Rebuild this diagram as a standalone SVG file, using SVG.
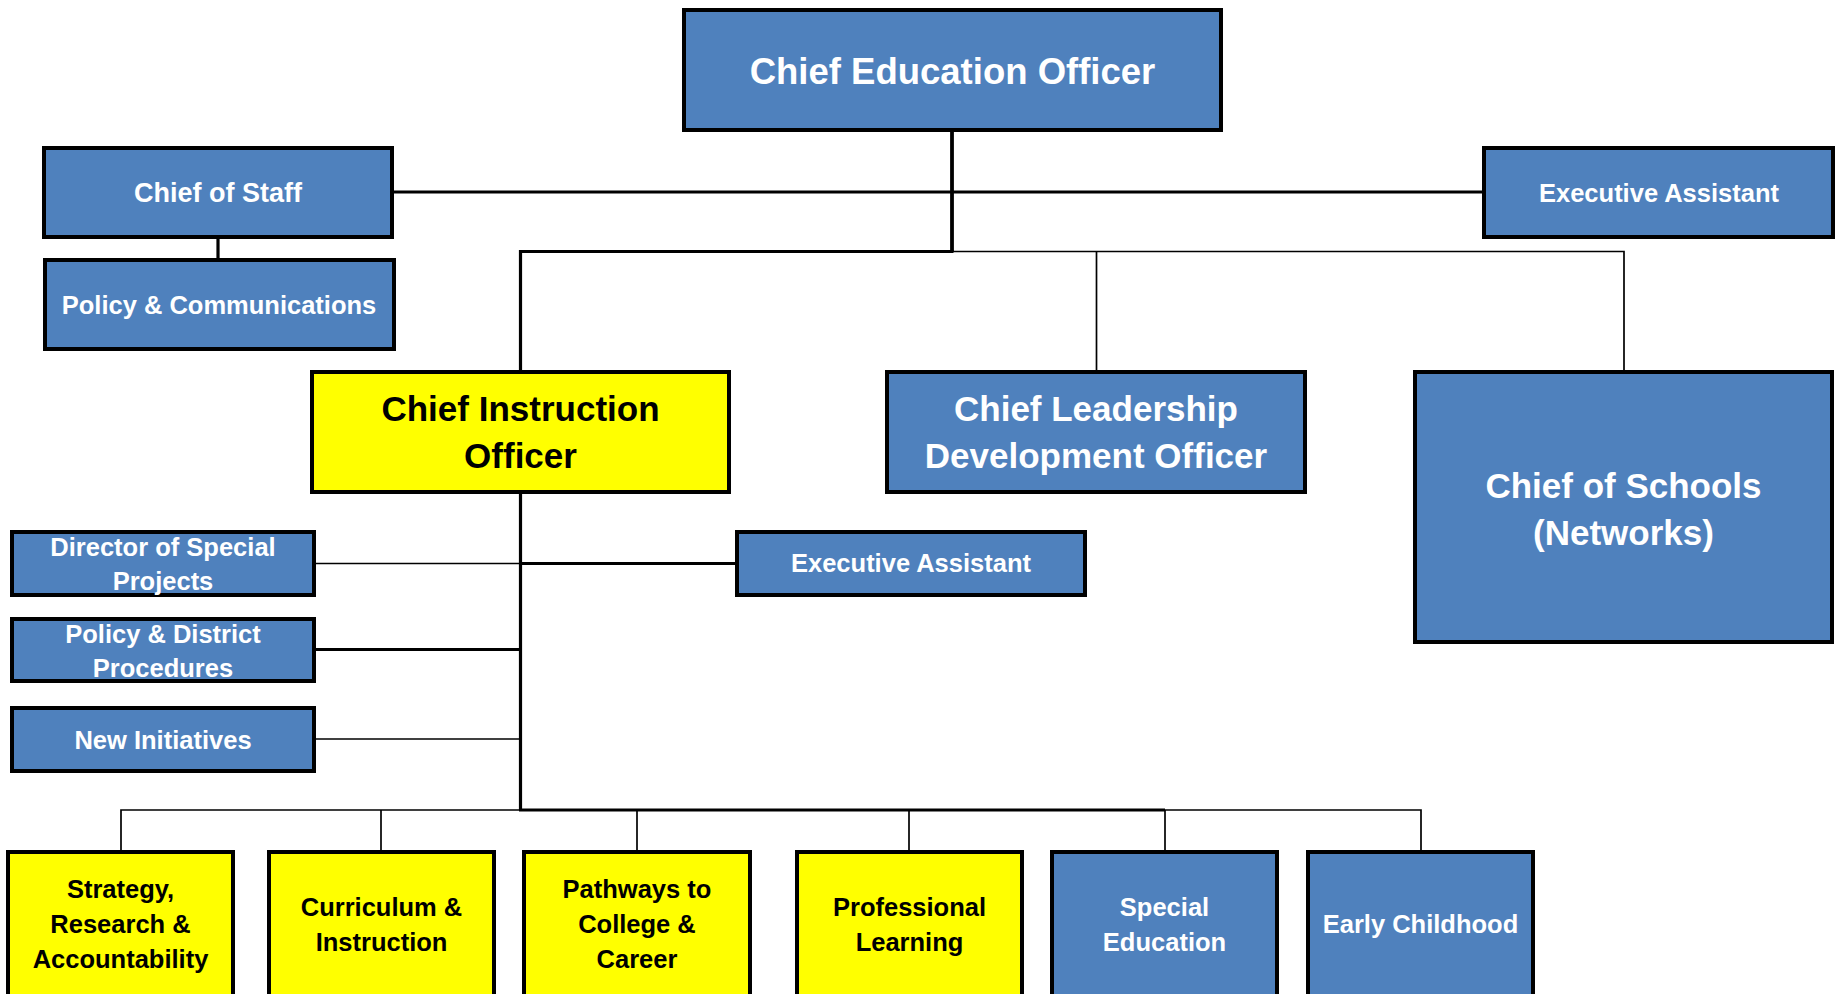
<svg xmlns="http://www.w3.org/2000/svg" width="1841" height="994" viewBox="0 0 1841 994">
  <style>
    .blue { fill: #4F81BD; stroke: #000; stroke-width: 4; }
    .yellow { fill: #FFFF00; stroke: #000; stroke-width: 4; }
    text { font-family: "Liberation Sans", Arial, sans-serif; font-weight: bold; text-anchor: middle; }
    .w { fill: #FFFFFF; }
    .k { fill: #000000; }
    .big { font-size: 35px; }
    .small { font-size: 25.5px; }
    .thick { stroke: #000; stroke-width: 3.2; fill: none; }
    .thin { stroke: #000; stroke-width: 1.7; fill: none; }
  </style>
  <rect width="1841" height="994" fill="#FFFFFF"/>

  <!-- reporting lines -->
  <g id="connectors">
    <path class="thick" d="M952,132 V252" style="stroke-width:3.8"/>
    <path class="thick" d="M394,192 H1482"/>
    <path class="thick" d="M218,239 V258"/>
    <path class="thick" d="M520.5,370 V251.5 H953.5"/>
    <path class="thin" d="M952,251.5 H1624 V370"/>
    <path class="thin" d="M1096.5,251.5 V370"/>
    <path class="thick" d="M520.5,494 V810"/>
    <path class="thin" d="M316,563.5 H520"/>
    <path class="thick" d="M520,563.5 H735"/>
    <path class="thick" d="M316,649.5 H522"/>
    <path class="thin" d="M316,739 H520"/>
    <path class="thin" d="M121,850 V810 H520"/>
    <path class="thick" d="M519,810 H1165"/>
    <path class="thin" d="M1165,810 H1421 V850"/>
    <path class="thin" d="M381,810 V850"/>
    <path class="thin" d="M637,810 V850"/>
    <path class="thin" d="M909,810 V850"/>
    <path class="thin" d="M1165,810 V850"/>
  </g>

  <g id="chief-education-officer">
    <rect class="blue" x="684" y="10" width="537" height="120"/>
    <text class="w" x="952.5" y="84" style="font-size:36.5px">Chief Education Officer</text>
  </g>

  <g id="chief-of-staff">
    <rect class="blue" x="44" y="148" width="348" height="89"/>
    <text class="w small" x="218" y="202" style="font-size:27px">Chief of Staff</text>
  </g>

  <g id="policy-communications">
    <rect class="blue" x="45" y="260" width="349" height="89"/>
    <text class="w small" x="219" y="314">Policy &amp; Communications</text>
  </g>

  <g id="executive-assistant-top">
    <rect class="blue" x="1484" y="148" width="349" height="89"/>
    <text class="w small" x="1659" y="202">Executive Assistant</text>
  </g>

  <g id="chief-instruction-officer">
    <rect class="yellow" x="312" y="372" width="417" height="120"/>
    <text class="k big" x="520.5" y="421">Chief Instruction</text>
    <text class="k big" x="520.5" y="468">Officer</text>
  </g>

  <g id="chief-leadership-development-officer">
    <rect class="blue" x="887" y="372" width="418" height="120"/>
    <text class="w big" x="1096" y="421">Chief Leadership</text>
    <text class="w big" x="1096" y="468">Development Officer</text>
  </g>

  <g id="chief-of-schools">
    <rect class="blue" x="1415" y="372" width="417" height="270"/>
    <text class="w big" x="1623.5" y="498">Chief of Schools</text>
    <text class="w big" x="1623.5" y="545">(Networks)</text>
  </g>

  <g id="director-special-projects">
    <rect class="blue" x="12" y="532" width="302" height="63"/>
    <text class="w small" x="163" y="556">Director of Special</text>
    <text class="w small" x="163" y="590">Projects</text>
  </g>

  <g id="policy-district-procedures">
    <rect class="blue" x="12" y="619" width="302" height="62"/>
    <text class="w small" x="163" y="643">Policy &amp; District</text>
    <text class="w small" x="163" y="677">Procedures</text>
  </g>

  <g id="new-initiatives">
    <rect class="blue" x="12" y="708" width="302" height="63"/>
    <text class="w small" x="163" y="749">New Initiatives</text>
  </g>

  <g id="executive-assistant-cio">
    <rect class="blue" x="737" y="532" width="348" height="63"/>
    <text class="w small" x="911" y="572">Executive Assistant</text>
  </g>

  <g id="strategy-research-accountability">
    <rect class="yellow" x="8" y="852" width="225" height="160"/>
    <text class="k small" x="120.5" y="898">Strategy,</text>
    <text class="k small" x="120.5" y="933">Research &amp;</text>
    <text class="k small" x="120.5" y="968">Accountability</text>
  </g>

  <g id="curriculum-instruction">
    <rect class="yellow" x="269" y="852" width="225" height="160"/>
    <text class="k small" x="381.5" y="916">Curriculum &amp;</text>
    <text class="k small" x="381.5" y="951">Instruction</text>
  </g>

  <g id="pathways-college-career">
    <rect class="yellow" x="524" y="852" width="226" height="160"/>
    <text class="k small" x="637" y="898">Pathways to</text>
    <text class="k small" x="637" y="933">College &amp;</text>
    <text class="k small" x="637" y="968">Career</text>
  </g>

  <g id="professional-learning">
    <rect class="yellow" x="797" y="852" width="225" height="160"/>
    <text class="k small" x="909.5" y="916">Professional</text>
    <text class="k small" x="909.5" y="951">Learning</text>
  </g>

  <g id="special-education">
    <rect class="blue" x="1052" y="852" width="225" height="160"/>
    <text class="w small" x="1164.5" y="916">Special</text>
    <text class="w small" x="1164.5" y="951">Education</text>
  </g>

  <g id="early-childhood">
    <rect class="blue" x="1308" y="852" width="225" height="160"/>
    <text class="w small" x="1420.5" y="933">Early Childhood</text>
  </g>
</svg>
